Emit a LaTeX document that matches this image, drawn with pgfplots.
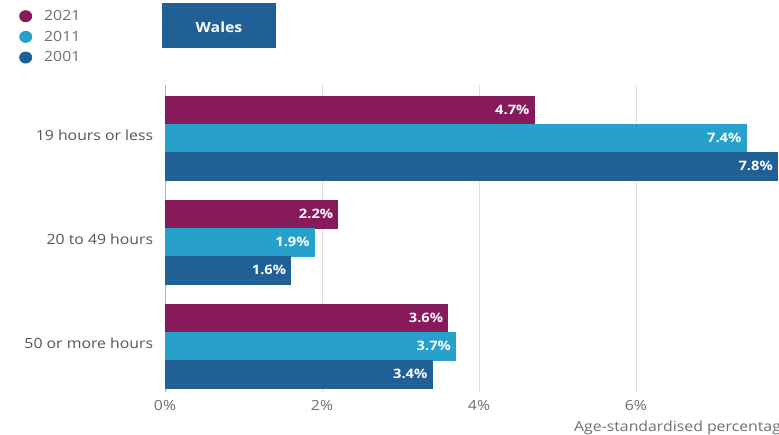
\documentclass[border=0pt]{standalone}
\usepackage{fontspec}
\setmainfont{Open Sans}[FakeStretch=1.13]
\usepackage{pgfplots}
\pgfplotsset{compat=1.18}
\definecolor{c2021}{HTML}{871A5B}
\definecolor{c2011}{HTML}{27A0CC}
\definecolor{c2001}{HTML}{206095}
\definecolor{txtgray}{HTML}{707071}
\definecolor{catgray}{HTML}{555555}

\begin{document}
\begin{tikzpicture}
\useasboundingbox (0pt,0pt) rectangle (779pt,435pt);
\begin{axis}[
  at={(165pt,43pt)}, anchor=south west,
  scale only axis,
  width=614pt, height=306.8pt,
  xbar, bar width=28pt,
  xmin=0, xmax=7.822,
  ymin=-0.44, ymax=2.51,
  ytick={0,1,2},
  yticklabels={50 or more hours,20 to 49 hours,19 hours or less},
  xtick={2,4,6},
  xticklabels={2\%,4\%,6\%},
  extra x ticks={0},
  extra x tick labels={0\%},
  extra x tick style={grid style={color=black!30, line width=0.8pt}},
  xmajorgrids,
  grid style={color=black!13, line width=0.8pt},
  axis line style={draw=none},
  tick style={draw=none},
  yticklabel style={font=\fontsize{14}{16}\selectfont, text=catgray, xshift=-4pt, yshift=3pt},
  xticklabel style={font=\fontsize{14}{16}\selectfont, text=txtgray, yshift=-5pt},
  nodes near coords={\pgfmathprintnumber[fixed,fixed zerofill,precision=1,assume math mode=true]{\pgfplotspointmeta}\%},
  nodes near coords align={horizontal},
  every node near coord/.append style={anchor=east, xshift=-1pt, text=white, font=\bfseries\fontsize{13}{15}\selectfont},
  legend style={at={(0,1)}, anchor=north west, xshift=-149pt, yshift=79pt,
    draw=none, fill=none, row sep=5pt, column sep=10pt,
    font=\fontsize{14}{16}\selectfont, text=txtgray,
    cells={anchor=west}},
  legend image code/.code={\fill[#1, draw=none] (0pt,0pt) ellipse (6.5pt and 6pt);},
]
\addplot[fill=c2021, draw=c2021, bar shift=28pt] coordinates {(4.7,2) (2.2,1) (3.6,0)};
\addplot[fill=c2011, draw=c2011, bar shift=0pt] coordinates {(7.4,2) (1.9,1) (3.7,0)};
\addplot[fill=c2001, draw=c2001, bar shift=-28pt] coordinates {(7.8,2) (1.6,1) (3.4,0)};
\legend{2021,2011,2001}
\end{axis}
\fill[c2001] (162pt,387pt) rectangle (276pt,432pt);
\node[text=white, font=\bfseries\fontsize{14}{16}\selectfont] at (219pt,408pt) {Wales};
\node[anchor=base west, text=txtgray, font=\fontsize{14}{16}\selectfont, inner sep=0pt] at (574pt,3pt) {Age-standardised percentage};
\end{tikzpicture}
\end{document}
